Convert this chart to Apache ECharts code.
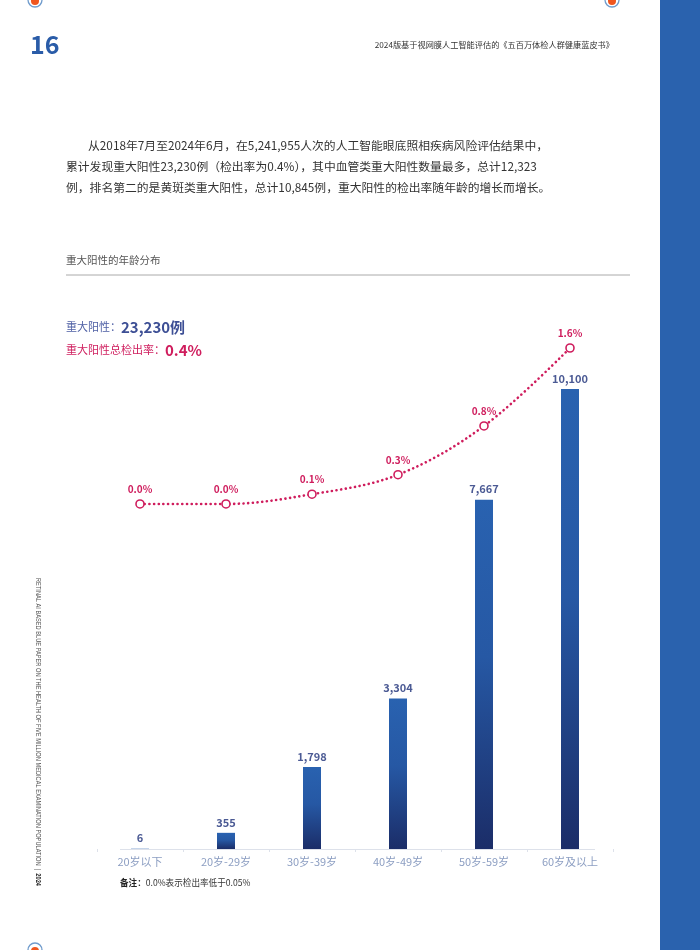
<!DOCTYPE html>
<html>
<head>
<meta charset="utf-8">
<script src="https://cdn.jsdelivr.net/npm/echarts@6/dist/echarts.min.js"></script>
<style>
html,body{margin:0;padding:0;background:#fff;}
#c{width:700px;height:950px;}
</style>
</head>
<body>
<div id="c"></div>
<script>
var categories = ['20岁以下', '20岁-29岁', '30岁-39岁', '40岁-49岁', '50岁-59岁', '60岁及以上'];
var positiveCounts = [6, 355, 1798, 3304, 7667, 10100];
var detectionRates = [0.0, 0.0, 0.1, 0.3, 0.8, 1.6];
var totalPositive = '23,230例';
var totalRate = '0.4%';

var paragraph = [
  '从2018年7月至2024年6月，在5,241,955人次的人工智能眼底照相疾病风险评估结果中，',
  '累计发现重大阳性23,230例（检出率为0.4%），其中血管类重大阳性数量最多，总计12,323',
  '例，排名第二的是黄斑类重大阳性，总计10,845例，重大阳性的检出率随年龄的增长而增长。'
];

var CRIMSON = '#cf1d5d';
var FONT = '"Noto Sans CJK SC", "Noto Sans", sans-serif';

var chart = echarts.init(document.getElementById('c'));

function ringDot(cx, cy) {
  return [
    { type: 'circle', shape: { cx: cx, cy: cy, r: 7 }, style: { fill: '#fff', stroke: '#6f9bcc', lineWidth: 1.3 } },
    { type: 'circle', shape: { cx: cx, cy: cy + 1, r: 4 }, style: { fill: '#f0561e' } }
  ];
}

var graphics = [
  { type: 'rect', shape: { x: 660, y: 0, width: 40, height: 950 }, style: { fill: '#2a62ae' } },
  { type: 'text', left: 30, top: 32, style: { text: '16', fill: '#2a5ca8', font: 'bold 25px ' + FONT } },
  { type: 'text', x: 614, y: 45, style: { text: '2024版基于视网膜人工智能评估的《五百万体检人群健康蓝皮书》', fill: '#333', font: '8.2px ' + FONT, textAlign: 'right', textVerticalAlign: 'middle' } },
  { type: 'text', x: 88, y: 146, style: { text: paragraph[0], fill: '#333', font: '11.8px ' + FONT, textVerticalAlign: 'middle' } },
  { type: 'text', x: 66, y: 167, style: { text: paragraph[1], fill: '#333', font: '11.8px ' + FONT, textVerticalAlign: 'middle' } },
  { type: 'text', x: 66, y: 188, style: { text: paragraph[2], fill: '#333', font: '11.8px ' + FONT, textVerticalAlign: 'middle' } },
  { type: 'text', x: 66, y: 260, style: { text: '重大阳性的年龄分布', fill: '#555', font: '10.5px ' + FONT, textVerticalAlign: 'middle' } },
  { type: 'line', shape: { x1: 66, y1: 275, x2: 630, y2: 275 }, style: { stroke: '#aaa', lineWidth: 1 } },
  { type: 'line', shape: { x1: 120, y1: 849.5, x2: 595, y2: 849.5 }, style: { stroke: '#dde1ea', lineWidth: 1 } },
  { type: 'text', x: 66, y: 327, style: {
      text: '{a|重大阳性：}{b|' + totalPositive + '}', textVerticalAlign: 'middle',
      rich: { a: { fill: '#4f60a5', font: '11px ' + FONT }, b: { fill: '#3d4f95', font: 'bold 15px ' + FONT } } } },
  { type: 'text', x: 66, y: 350, style: {
      text: '{a|重大阳性总检出率：}{b|' + totalRate + '}', textVerticalAlign: 'middle',
      rich: { a: { fill: CRIMSON, font: '11px ' + FONT }, b: { fill: CRIMSON, font: 'bold 15px ' + FONT } } } },
  { type: 'text', x: 120, y: 883, style: {
      text: '{a|备注：}{b|0.0%表示检出率低于0.05%}', textVerticalAlign: 'middle',
      rich: { a: { fill: '#222', font: 'bold 8.6px ' + FONT }, b: { fill: '#333', font: '8.6px ' + FONT } } } },
  { type: 'text', x: 38, y: 578, rotation: -Math.PI / 2, scaleX: 0.81, style: {
      text: '{a|RETINAL AI BASED BLUE PAPER ON THE HEALTH OF FIVE MILLION MEDICAL EXAMINATION POPULATION  |  }{b|2024}',
      textAlign: 'left', textVerticalAlign: 'middle',
      rich: { a: { fill: '#555', font: '7px "Liberation Sans", sans-serif' }, b: { fill: '#222', font: 'bold 7px "Liberation Sans", sans-serif' } } } }
].concat(ringDot(35, 0), ringDot(612, 0), ringDot(35, 950));

chart.setOption({
  animation: false,
  backgroundColor: '#fff',
  grid: { left: 97, right: 87, top: 348, bottom: 101 },
  xAxis: {
    type: 'category',
    data: categories,
    axisLine: { show: false },
    axisTick: { show: true, lineStyle: { color: '#dde1ea' }, length: 3 },
    axisLabel: { color: '#8c9ec2', fontSize: 11, fontFamily: FONT, margin: 7 }
  },
  yAxis: [
    { type: 'value', min: 0, max: 11000, show: false, splitLine: { show: false } },
    { type: 'value', min: -3.54, max: 1.6, show: false, splitLine: { show: false } }
  ],
  series: [
    {
      type: 'bar',
      data: positiveCounts,
      barWidth: 18,
      yAxisIndex: 0,
      itemStyle: {
        color: new echarts.graphic.LinearGradient(0, 0, 0, 1, [
          { offset: 0, color: '#2962b0' },
          { offset: 0.45, color: '#2658a4' },
          { offset: 1, color: '#1b2d68' }
        ])
      },
      label: {
        show: true, position: 'top', distance: 5,
        color: '#4b5a94', fontSize: 11, fontWeight: 'bold', fontFamily: FONT,
        formatter: function (p) { return p.value.toLocaleString('en-US'); }
      }
    },
    {
      type: 'line',
      data: detectionRates,
      yAxisIndex: 1,
      smooth: 0.35,
      symbol: 'circle',
      symbolSize: 8,
      itemStyle: { color: '#fff', borderColor: CRIMSON, borderWidth: 1.6 },
      lineStyle: { color: CRIMSON, width: 2.6, type: [0.1, 4.6], cap: 'round' },
      label: {
        show: true, position: 'top', distance: 5,
        color: CRIMSON, fontSize: 10, fontWeight: 'bold', fontFamily: FONT,
        formatter: function (p) { return p.value.toFixed(1) + '%'; }
      },
      z: 3
    }
  ],
  graphic: graphics
});
</script>
</body>
</html>
